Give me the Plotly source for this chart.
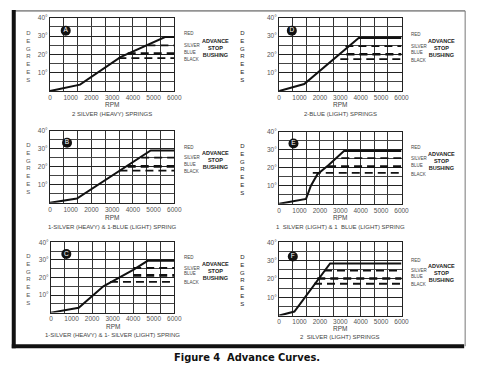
import plotly.graph_objects as go

W, H = 480, 368

# ---------------- data ----------------
panel_ids = ["A", "D", "B", "E", "C", "F"]

A_rpm = [0, 1450, 3400, 5550, 6000]
A_deg = [0, 3.5, 18.5, 29.5, 29.5]
D_rpm = [0, 1230, 3900, 6000]
D_deg = [0, 3.8, 29, 29]
B_rpm = [0, 1300, 4860, 6000]
B_deg = [0, 2.4, 29, 29]
E_rpm = [0, 1320, 1560, 1880, 2430, 3180, 6000]
E_deg = [0, 2.7, 10, 16.4, 21.5, 29.2, 29.2]
C_rpm = [0, 1350, 2550, 3000, 4000, 4700, 6000]
C_deg = [0, 2.8, 15, 17.8, 24.4, 29.5, 29.5]
F_rpm = [0, 750, 2500, 6000]
F_deg = [0, 2.2, 28.5, 28.5]

# advance stop bushings: silver, blue, black
bushing_names = ["SILVER", "BLUE", "BLACK"]
A_stop_start = [4700, 3750, 3300]
A_stop_deg = [25, 20.5, 18]
D_stop_start = [3250, 3300, 3000]
D_stop_deg = [24.6, 20.1, 17.4]
B_stop_start = [4400, 3750, 3350]
B_stop_deg = [25, 20.2, 17.8]
E_stop_start = [3050, 2400, 1650]
E_stop_deg = [25.3, 20.6, 17.1]
C_stop_start = [4000, 4000, 2870]
C_stop_deg = [25.4, 21.2, 17.5]
F_stop_start = [2200, 1870, 1710]
F_stop_deg = [24.6, 20.3, 17.4]

badge_rpm = [760, 624, 823, 704, 748, 672]
badge_deg = [33, 33, 33.3, 33.4, 33.4, 32.3]

captions = [
    "2 SILVER (HEAVY) SPRINGS",
    "2-BLUE (LIGHT) SPRINGS",
    "1-SILVER (HEAVY) &amp; 1-BLUE (LIGHT) SPRING",
    "1  SILVER (LIGHT) &amp; 1  BLUE (LIGHT) SPRING",
    "1-SILVER (HEAVY) &amp; 1- SILVER (LIGHT) SPRING",
    "2  SILVER (LIGHT) SPRINGS",
]
x_tick_vals = [0, 1000, 2000, 3000, 4000, 5000, 6000]
x_tick_text = ["0", "1000", "2000", "3000", "4000", "5000", "6000"]
y_tick_vals = [10, 20, 30, 40]
y_tick_text = ["10°", "20°", "30°", "40°"]
title_text = "Figure 4  Advance Curves."

curves = {
    "A": (A_rpm, A_deg, A_stop_start, A_stop_deg),
    "D": (D_rpm, D_deg, D_stop_start, D_stop_deg),
    "B": (B_rpm, B_deg, B_stop_start, B_stop_deg),
    "E": (E_rpm, E_deg, E_stop_start, E_stop_deg),
    "C": (C_rpm, C_deg, C_stop_start, C_stop_deg),
    "F": (F_rpm, F_deg, F_stop_start, F_stop_deg),
}

# ---------------- layout (pixel boxes: left, right, top, bottom) ----------------
boxes = [
    (49, 176, 14, 88),
    (283, 408, 14, 88),
    (49, 176, 128, 201),
    (283, 408, 129, 202),
    (50, 176, 241, 312),
    (283, 408, 241, 315),
]
rpm_label_y = [102, 102, 216, 216, 326, 328]
caption_y = [111, 111, 225, 225, 335, 337]
degrees_x = [27, 246, 27, 246, 27, 246]


def px(x):
    return x / W


def py(y):
    return 1 - y / H


fig = go.Figure()
annotations = []
shapes = []
layout_axes = {}

SMALL = "Liberation Sans, Arial, sans-serif"
TICKFONT = dict(family=SMALL, size=6.5, color="#555")

for i, pid in enumerate(panel_ids):
    n = i + 1
    xa = "x" if n == 1 else f"x{n}"
    ya = "y" if n == 1 else f"y{n}"
    xkey = "xaxis" if n == 1 else f"xaxis{n}"
    ykey = "yaxis" if n == 1 else f"yaxis{n}"
    l, r, t, b = boxes[i]
    rpm, deg, s_start, s_deg = curves[pid]

    # stop bushing dashed lines
    for k, name in enumerate(bushing_names):
        fig.add_trace(go.Scatter(
            x=[s_start[k], 6000], y=[s_deg[k], s_deg[k]],
            mode="lines", xaxis=xa, yaxis=ya, showlegend=False,
            line=dict(color="#111", width=2.6 if name == "BLUE" else 1.8, dash="8px,5px"),
            hoverinfo="skip"))
    # advance curve
    fig.add_trace(go.Scatter(
        x=rpm, y=deg, mode="lines", xaxis=xa, yaxis=ya, showlegend=False,
        line=dict(color="#111", width=2), hoverinfo="skip"))
    # badge
    fig.add_trace(go.Scatter(
        x=[badge_rpm[i]], y=[badge_deg[i]], mode="markers+text", text=[pid],
        textposition="middle center", xaxis=xa, yaxis=ya, showlegend=False,
        marker=dict(size=10, color="#111"),
        textfont=dict(family=SMALL, size=6.5, color="white"), hoverinfo="skip"))

    layout_axes[xkey] = dict(
        domain=[px(l), px(r)], anchor=ya, range=[0, 6000],
        tickvals=x_tick_vals, ticktext=x_tick_text, tickfont=TICKFONT,
        showgrid=False, zeroline=False, showline=True, linecolor="#222",
        linewidth=1, mirror=True, ticks="", ticklen=0,
        minor=dict(dtick=6000 / 9, tick0=0, showgrid=True,
                   gridcolor="#333", gridwidth=1),
    )
    layout_axes[ykey] = dict(
        domain=[py(b), py(t)], anchor=xa, range=[0, 40],
        tickvals=y_tick_vals, ticktext=y_tick_text, tickfont=TICKFONT,
        showgrid=True, gridcolor="#222", gridwidth=1.2, zeroline=False,
        showline=True, linecolor="#222", linewidth=1, mirror=True,
        ticks="", minor=dict(dtick=5, showgrid=True, gridcolor="#444", gridwidth=1),
    )

    # right-hand labels
    red_level = max(deg) + 1.8
    annotations.append(dict(xref=f"{xa} domain", yref=ya, x=1.06, y=red_level,
                            text="RED", showarrow=False, xanchor="left",
                            font=dict(family=SMALL, size=4.5, color="#444")))
    for k, name in enumerate(bushing_names):
        offs = {"SILVER": 0, "BLUE": 0.8, "BLACK": -0.6}[name]
        annotations.append(dict(xref=f"{xa} domain", yref=ya, x=1.06,
                                y=s_deg[k] + offs, text=name, showarrow=False,
                                xanchor="left",
                                font=dict(family=SMALL, size=4.5, color="#444")))
    annotations.append(dict(xref=f"{xa} domain", yref=ya, x=1.33, y=23.5,
                            text="<b>ADVANCE<br>STOP<br>BUSHING</b>",
                            showarrow=False, xanchor="center", yanchor="middle",
                            font=dict(family=SMALL, size=5.5, color="#222")))
    # DEGREES
    annotations.append(dict(xref="paper", yref="paper", x=px(degrees_x[i]),
                            y=(py(b) + py(t)) / 2 - 0.005,
                            text="<br>".join("DEGREES"), showarrow=False,
                            xanchor="center", yanchor="middle",
                            font=dict(family=SMALL, size=6,
                                      color="#555" if i % 2 == 0 else "#222")))
    # RPM + caption
    annotations.append(dict(xref="paper", yref="paper", x=px((l + r) / 2),
                            y=py(rpm_label_y[i]), text="RPM", showarrow=False,
                            xanchor="center", yanchor="middle",
                            font=dict(family=SMALL, size=6.5, color="#444")))
    annotations.append(dict(xref="paper", yref="paper", x=px((l + r) / 2),
                            y=py(caption_y[i]), text=captions[i], showarrow=False,
                            xanchor="center", yanchor="middle",
                            font=dict(family=SMALL, size=6, color="#444")))

# title
annotations.append(dict(xref="paper", yref="paper", x=px(250), y=py(357),
                        text="<b>" + title_text + "</b>", showarrow=False,
                        xanchor="center", yanchor="middle",
                        font=dict(family="Liberation Sans Narrow, DejaVu Sans Condensed, Arial Narrow, sans-serif",
                                  size=11, color="#111")))

# page frame
shapes += [
    dict(type="line", xref="paper", yref="paper", x0=px(12), x1=px(473),
         y0=py(7), y1=py(7), line=dict(color="#444", width=1)),
    dict(type="line", xref="paper", yref="paper", x0=px(12), x1=px(12),
         y0=py(6), y1=py(348), line=dict(color="#111", width=4)),
    dict(type="line", xref="paper", yref="paper", x0=px(473), x1=px(473),
         y0=py(7), y1=py(346), line=dict(color="#777", width=1)),
    dict(type="line", xref="paper", yref="paper", x0=px(10), x1=px(472),
         y0=py(346), y1=py(346), line=dict(color="#111", width=4)),
]

fig.update_layout(
    width=W, height=H, margin=dict(l=0, r=0, t=0, b=0),
    paper_bgcolor="white", plot_bgcolor="white",
    annotations=annotations, shapes=shapes, **layout_axes,
)

fig.write_html("out.html", config={"displayModeBar": False},
               post_script="document.body.style.margin='0';document.body.style.overflow='hidden';")
